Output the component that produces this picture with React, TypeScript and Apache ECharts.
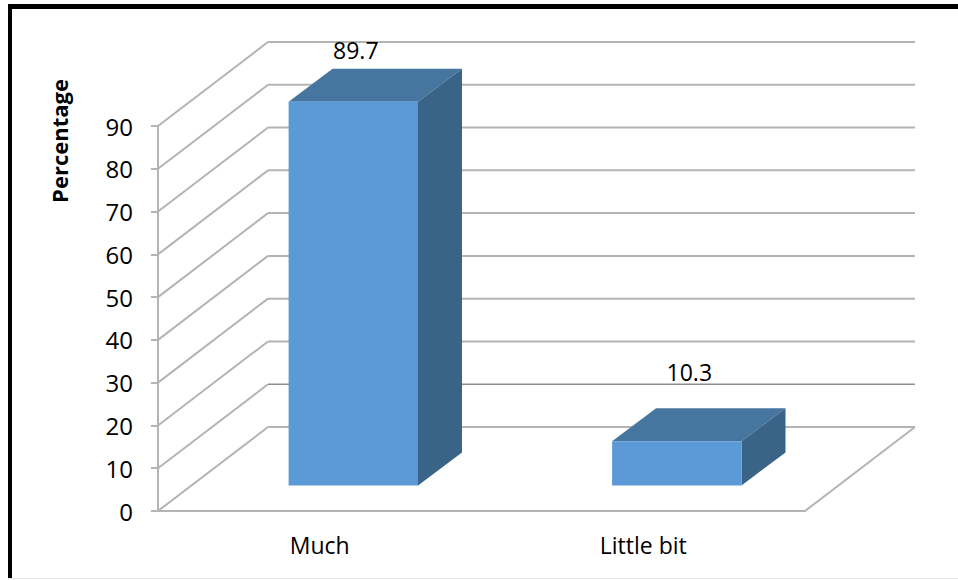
import React, { useEffect, useRef } from "react";
import * as echarts from "echarts";

const categories = ["Much", "Little bit"];
const values = [89.7, 10.3];
const yTicks = [0, 10, 20, 30, 40, 50, 60, 70, 80, 90];
const yAxisTitle = "Percentage";
// Manual label nudges relative to the top-centre of each bar's front face
const labelNudges = [
  [2.5, -52],
  [12.5, -69],
];

const FONT = "'Open Sans'";
const WALL_DX = 110;
const WALL_DY = -84;
const BAR_NEAR = 0.305;
const BAR_DEPTH_DX = 44;
const BAR_DEPTH_DY = -33;
const BAR_WIDTH_RATIO = 0.4;

const GRID_COLOR = "#b4b4b4";

function wallsRenderItem(params: any, api: any) {
  const v = api.value(1);
  const cs = params.coordSys;
  const [, y] = api.coord([0, v]);
  const x0 = cs.x;
  const x1 = x0 + WALL_DX;
  const xEnd = cs.x + cs.width + WALL_DX;
  const sideStyle = { stroke: GRID_COLOR, lineWidth: 2 };
  // The 10 line along the back wall prints darker and finer than the others
  const backStyle = v === 10 ? { stroke: "#8f8f8f", lineWidth: 1.5 } : sideStyle;
  const children: any[] = [
    { type: "line", shape: { x1: x0, y1: y, x2: x1, y2: y + WALL_DY }, style: sideStyle },
    { type: "line", shape: { x1, y1: y + WALL_DY, x2: xEnd, y2: y + WALL_DY }, style: backStyle },
  ];
  if (v === 0) {
    // Right edge of the floor
    children.push({
      type: "line",
      shape: { x1: cs.x + cs.width, y1: y, x2: xEnd, y2: y + WALL_DY },
      style: sideStyle,
    });
  }
  return { type: "group", children };
}

function barsRenderItem(_params: any, api: any) {
  const idx = api.value(0);
  const val = api.value(1);
  const [cx, yBase] = api.coord([idx, 0]);
  const [, yTop] = api.coord([idx, val]);
  const w = api.size([1, 0])[0] * BAR_WIDTH_RATIO;
  const ox = WALL_DX * BAR_NEAR;
  const oy = WALL_DY * BAR_NEAR;
  const l = cx - w / 2 + ox;
  const r = cx + w / 2 + ox;
  const b = yBase + oy;
  const t = yTop + oy;
  const nudge = labelNudges[idx];
  return {
    type: "group",
    children: [
      {
        type: "polygon",
        shape: { points: [[l, t], [r, t], [r + BAR_DEPTH_DX, t + BAR_DEPTH_DY], [l + BAR_DEPTH_DX, t + BAR_DEPTH_DY]] },
        style: { fill: "#4675a0" },
      },
      {
        type: "polygon",
        shape: { points: [[r, t], [r + BAR_DEPTH_DX, t + BAR_DEPTH_DY], [r + BAR_DEPTH_DX, b + BAR_DEPTH_DY], [r, b]] },
        style: { fill: "#3a6487" },
      },
      {
        type: "rect",
        shape: { x: l, y: t, width: r - l, height: b - t },
        style: { fill: "#5b9ad6" },
      },
      {
        type: "text",
        style: {
          text: String(val),
          x: (l + r) / 2 + nudge[0],
          y: t + nudge[1],
          align: "center",
          verticalAlign: "middle",
          fill: "#000",
          font: `23px ${FONT}`,
        },
      },
    ],
  };
}

export default function App() {
  const ref = useRef<HTMLDivElement>(null);

  useEffect(() => {
    const chart = echarts.init(ref.current!, null, { renderer: "svg" });
    chart.setOption({
      animation: false,
      backgroundColor: "#fff",
      grid: { left: 158, right: 153, top: 126, bottom: 69, containLabel: false },
      xAxis: {
        type: "category",
        data: categories,
        axisLine: { show: true, lineStyle: { color: GRID_COLOR, width: 2 } },
        axisTick: { show: false },
        axisLabel: { color: "#000", fontFamily: "Open Sans", fontSize: 23, margin: 22 },
      },
      yAxis: {
        type: "value",
        min: 0,
        max: 90,
        interval: 10,
        axisLine: { show: true, lineStyle: { color: GRID_COLOR, width: 2 } },
        axisTick: { show: true, length: 7, lineStyle: { color: GRID_COLOR, width: 2 } },
        splitLine: { show: false },
        axisLabel: { color: "#000", fontFamily: "Open Sans", fontSize: 24, margin: 25, padding: [4, 0, 0, 0] },
      },
      series: [
        {
          type: "custom",
          renderItem: wallsRenderItem,
          data: yTicks.map((t) => [0, t]),
          encode: { x: 0, y: 1 },
          clip: false,
          silent: true,
          z: 1,
        },
        {
          type: "custom",
          renderItem: barsRenderItem,
          data: values.map((v, i) => [i, v]),
          encode: { x: 0, y: 1 },
          clip: false,
          silent: true,
          z: 3,
        },
      ],
      graphic: [
        // Black frame: top and left edges, faint line along the bottom
        { type: "rect", shape: { x: 8, y: 4, width: 950, height: 5 }, style: { fill: "#000" }, z: 10 },
        { type: "rect", shape: { x: 8, y: 4, width: 4, height: 574 }, style: { fill: "#000" }, z: 10 },
        { type: "rect", shape: { x: 8, y: 578, width: 950, height: 1 }, style: { fill: "#e8e8e8" }, z: 10 },
        {
          type: "text",
          x: 59,
          y: 141,
          rotation: Math.PI / 2,
          style: {
            text: yAxisTitle,
            font: `bold 22px ${FONT}`,
            fill: "#000",
            align: "center",
            verticalAlign: "middle",
          },
          z: 10,
        },
      ],
    });
    return () => chart.dispose();
  }, []);

  return <div ref={ref} style={{ position: "absolute", left: 0, top: 0, width: 958, height: 580 }} />;
}
